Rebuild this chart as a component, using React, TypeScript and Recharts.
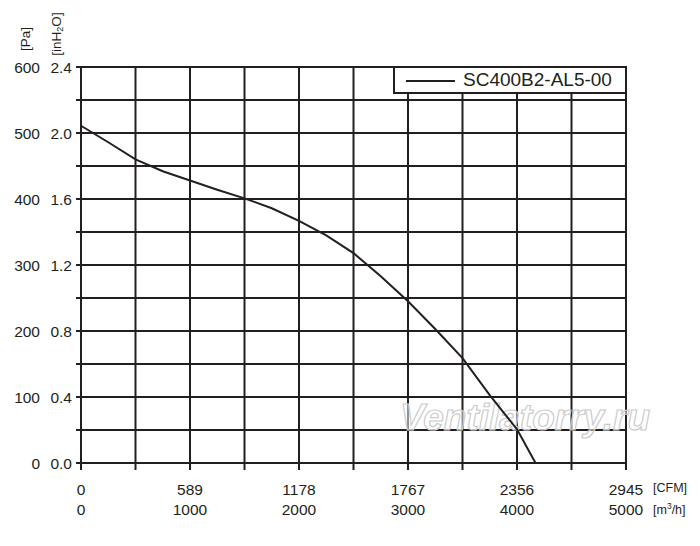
import React from "react";
import { LineChart, Line, XAxis, YAxis, CartesianGrid, Legend } from "recharts";

const flow = [0, 250, 500, 750, 1000, 1250, 1500, 1750, 2000, 2250, 2500, 2750, 3000, 3250, 3500, 3750, 4000, 4170];
const pressure = [511, 486, 460, 442, 428, 414, 401, 386, 367, 345, 318, 283, 245, 203, 159, 103, 51, 0];
const seriesName = "SC400B2-AL5-00";

const xTicks = [0, 500, 1000, 1500, 2000, 2500, 3000, 3500, 4000, 4500, 5000];
const m3hLabels = ["0", "1000", "2000", "3000", "4000", "5000"];
const cfmLabels = ["0", "589", "1178", "1767", "2356", "2945"];
const yTicks = [0, 50, 100, 150, 200, 250, 300, 350, 400, 450, 500, 550, 600];
const paLabels = ["0", "100", "200", "300", "400", "500", "600"];
const inH2OLabels = ["0.0", "0.4", "0.8", "1.2", "1.6", "2.0", "2.4"];

const data = flow.map((f, i) => ({ flow: f, pressure: pressure[i] }));

const INK = "#231f20";
const FONT = "'Liberation Sans', Arial, Helvetica, sans-serif";

const XTick = (props: any) => {
  const { x, payload } = props;
  const v = payload.value;
  if (v % 1000 !== 0) return <g />;
  const i = v / 1000;
  return (
    <g>
      <text x={x} y={481.5} textAnchor="middle" dominantBaseline="central" fontSize={15.5} fontFamily={FONT} fill={INK}>
        {cfmLabels[i]}
      </text>
      <text x={x} y={501} textAnchor="middle" dominantBaseline="central" fontSize={15.5} fontFamily={FONT} fill={INK}>
        {m3hLabels[i]}
      </text>
    </g>
  );
};

const YTick = (props: any) => {
  const { y, payload } = props;
  const v = payload.value;
  if (v % 100 !== 0) return <g />;
  const i = v / 100;
  return (
    <g>
      <text x={32} y={y} textAnchor="end" dominantBaseline="central" fontSize={15.5} fontFamily={FONT} fill={INK}>
        {paLabels[i]}
      </text>
      <text x={64} y={y} textAnchor="end" dominantBaseline="central" fontSize={15.5} fontFamily={FONT} fill={INK}>
        {inH2OLabels[i]}
      </text>
    </g>
  );
};

const LegendBox = () => (
  <div
    style={{
      boxSizing: "border-box",
      width: 234,
      height: 28,
      border: `2px solid ${INK}`,
      background: "#fff",
      display: "flex",
      alignItems: "center",
      fontFamily: FONT,
      color: INK,
      fontSize: 19,
    }}
  >
    <svg width={66} height={20} style={{ flex: "none" }}>
      <line x1={11} y1={11} x2={60} y2={11} stroke={INK} strokeWidth={2} />
    </svg>
    <span style={{ marginLeft: 2, whiteSpace: "nowrap" }}>{seriesName}</span>
  </div>
);

export default function App() {
  return (
    <div style={{ position: "relative", width: 684, height: 530 }}>
      <LineChart width={684} height={530} data={data} margin={{ top: 59, right: 66, left: 0, bottom: 0 }}>
        <text x={517} y={422} textAnchor="middle" fontSize={37} fontWeight="bold" fontStyle="italic" fontFamily={FONT} fill="#ffffff" fillOpacity={0.5} stroke="#cccccc" strokeWidth={1.2}>
          Ventilatorry.ru
        </text>
        <CartesianGrid stroke={INK} strokeWidth={2} />
        <XAxis
          dataKey="flow"
          type="number"
          domain={[0, 5000]}
          ticks={xTicks}
          interval={0}
          height={75}
          tickSize={7}
          tickLine={{ stroke: INK, strokeWidth: 2 }}
          axisLine={{ stroke: INK, strokeWidth: 2 }}
          tick={<XTick />}
        />
        <YAxis
          type="number"
          domain={[0, 600]}
          ticks={yTicks}
          interval={0}
          width={73}
          tickSize={5}
          tickLine={{ stroke: INK, strokeWidth: 2 }}
          axisLine={{ stroke: INK, strokeWidth: 2 }}
          tick={<YTick />}
        />
        <Legend
          layout="horizontal"
          verticalAlign="middle"
          align="center"
          content={<LegendBox />}
          wrapperStyle={{ position: "absolute", left: 385, top: 58, width: 234, height: 28, right: "auto", bottom: "auto" }}
        />
        <Line
          type="linear"
          dataKey="pressure"
          name={seriesName}
          stroke={INK}
          strokeWidth={2}
          dot={false}
          activeDot={false}
          isAnimationActive={false}
        />
        <text x={0} y={0} transform="translate(17,31) rotate(-90)" textAnchor="middle" dominantBaseline="central" fontSize={13.5} fontFamily={FONT} fill={INK}>
          [Pa]
        </text>
        <text x={0} y={0} transform="translate(48,26) rotate(-90)" textAnchor="middle" dominantBaseline="central" fontSize={13.5} fontFamily={FONT} fill={INK}>
          [inH<tspan fontSize={9} dy={4}>2</tspan><tspan dy={-4}>O]</tspan>
        </text>
        <text x={645} y={480} dominantBaseline="central" fontSize={12.5} fontFamily={FONT} fill={INK}>
          [CFM]
        </text>
        <text x={645} y={502} dominantBaseline="central" fontSize={12.5} fontFamily={FONT} fill={INK}>
          [m<tspan fontSize={8.5} dy={-4}>3</tspan><tspan dy={4}>/h]</tspan>
        </text>
      </LineChart>
    </div>
  );
}
